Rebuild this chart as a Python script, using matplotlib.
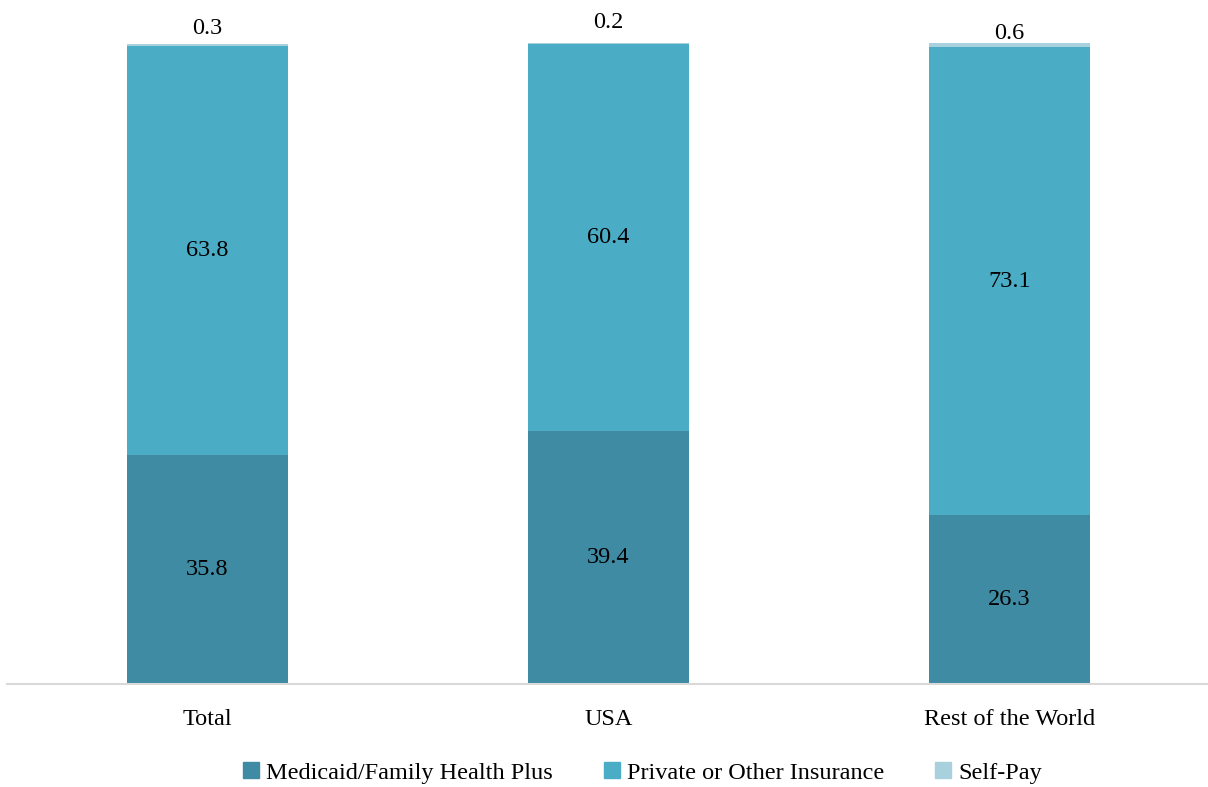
import matplotlib
matplotlib.use("Agg")
import matplotlib.pyplot as plt
from matplotlib.patches import Patch

categories = ["Total", "USA", "Rest of the World"]
series_names = ["Medicaid/Family Health Plus", "Private or Other Insurance", "Self-Pay"]
medicaid = [35.8, 39.4, 26.3]
private = [63.8, 60.4, 73.1]
selfpay = [0.3, 0.2, 0.6]

colors = ["#3E8BA3", "#4BACC6", "#A8D0DD"]
top_label_offsets_px = [15, 20, 10]

plt.rcParams['font.family'] = ['Liberation Serif', 'DejaVu Serif']

fig = plt.figure(figsize=(12.08, 7.87), dpi=100)
ax = fig.add_axes([7/1208, 103/787, 1203/1208, 641/787])

x = list(range(len(categories)))
width = 0.4
ax.bar(x, medicaid, width, color=colors[0])
ax.bar(x, private, width, bottom=medicaid, color=colors[1])
bottom3 = [m + p for m, p in zip(medicaid, private)]
ax.bar(x, selfpay, width, bottom=bottom3, color=colors[2])

fs = 17.5
for i in x:
    ax.text(i, medicaid[i] / 2, f"{medicaid[i]:.1f}", ha="center", va="center", fontsize=fs)
    ax.text(i, medicaid[i] + private[i] / 2, f"{private[i]:.1f}", ha="center", va="center", fontsize=fs)
    ax.annotate(f"{selfpay[i]:.1f}", (i, bottom3[i] + selfpay[i]), xytext=(0, top_label_offsets_px[i] * 0.72),
                textcoords="offset points", ha="center", va="center", fontsize=fs, annotation_clip=False)

ax.set_xlim(-0.5, 2.5)
ax.set_ylim(0, 100)
ax.set_xticks(x)
ax.set_xticklabels(categories, fontsize=fs)
ax.tick_params(axis="x", length=0, pad=18)
ax.set_yticks([])
for s in ["top", "left", "right"]:
    ax.spines[s].set_visible(False)
ax.spines["bottom"].set_color("#D9D9D9")
ax.spines["bottom"].set_linewidth(1.5)

handles = [Patch(color=c) for c in colors]
fig.legend(handles, series_names, loc="center", bbox_to_anchor=(0.532, 1 - 773/787), ncol=3,
           frameon=False, fontsize=fs, handlelength=0.65, handleheight=0.65, handletextpad=0.3, columnspacing=2.1)

fig.savefig("out.png", dpi=100)
